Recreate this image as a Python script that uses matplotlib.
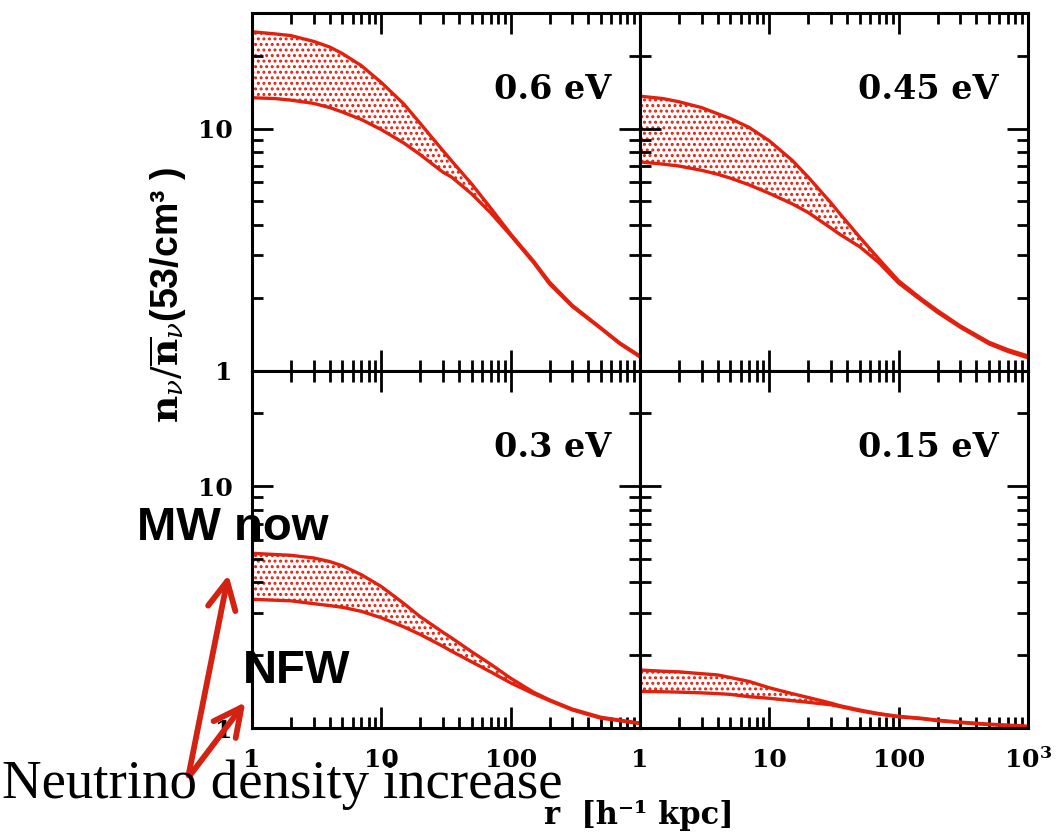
import numpy as np
import matplotlib
matplotlib.use('Agg')
import matplotlib.pyplot as plt
from matplotlib.ticker import FixedLocator, FixedFormatter, LogLocator, NullFormatter
from matplotlib.patches import FancyArrowPatch

plt.rcParams['mathtext.fontset'] = 'dejavuserif'
plt.rcParams['hatch.linewidth'] = 1.4

# radius grid (h^-1 kpc)
r = [1, 1.5, 2, 3, 4, 5, 7, 10, 15, 20, 30, 35, 50, 70, 100, 150, 200, 300, 500, 700, 1000]

# density contrast bands (upper = MW now, lower = NFW)
upper_06 = [25.1, 24.6, 24.2, 22.9, 21.7, 20.4, 18.2, 15.5, 12.6, 10.5, 8.1, 7.35,
            5.9, 4.7, 3.67, 2.84, 2.32, 1.86, 1.50, 1.30, 1.15]
lower_06 = [13.4, 13.3, 13.1, 12.7, 12.2, 11.7, 10.9, 9.9, 8.7, 7.8, 6.6, 6.3,
            5.37, 4.49, 3.62, 2.80, 2.28, 1.84, 1.49, 1.29, 1.14]

upper_045 = [13.6, 13.3, 12.9, 12.2, 11.5, 11.0, 10.1, 8.9, 7.4, 6.3, 4.93, 4.46,
             3.56, 2.90, 2.35, 1.98, 1.77, 1.53, 1.31, 1.22, 1.15]
lower_045 = [7.28, 7.13, 7.0, 6.72, 6.47, 6.24, 5.85, 5.4, 4.89, 4.5, 3.88, 3.66,
             3.25, 2.80, 2.30, 1.95, 1.74, 1.51, 1.29, 1.20, 1.13]

upper_03 = [5.28, 5.22, 5.18, 5.05, 4.88, 4.69, 4.31, 3.85, 3.27, 2.89, 2.49, 2.36,
            2.07, 1.84, 1.61, 1.41, 1.31, 1.20, 1.11, 1.08, 1.05]
lower_03 = [3.41, 3.38, 3.36, 3.27, 3.21, 3.16, 3.04, 2.86, 2.62, 2.44, 2.18, 2.08,
            1.88, 1.71, 1.54, 1.39, 1.30, 1.19, 1.10, 1.075, 1.045]

upper_015 = [1.74, 1.72, 1.71, 1.68, 1.66, 1.62, 1.56, 1.47, 1.39, 1.34, 1.27, 1.24,
             1.19, 1.15, 1.12, 1.10, 1.08, 1.06, 1.04, 1.03, 1.02]
lower_015 = [1.42, 1.415, 1.41, 1.40, 1.39, 1.38, 1.35, 1.33, 1.30, 1.28, 1.25, 1.23,
             1.18, 1.145, 1.115, 1.095, 1.075, 1.055, 1.035, 1.025, 1.015]

labels = ['0.6 eV', '0.45 eV', '0.3 eV', '0.15 eV']
uppers = [upper_06, upper_045, upper_03, upper_015]
lowers = [lower_06, lower_045, lower_03, lower_015]

red = '#e2200e'
arrow_red = '#d42212'

fig, axes = plt.subplots(2, 2, figsize=(10.63, 8.39), dpi=100)
fig.subplots_adjust(left=0.237, right=0.967, top=0.9845, bottom=0.132,
                    wspace=0, hspace=0)

for i, ax in enumerate(axes.flat):
    ax.set_xscale('log')
    ax.set_yscale('log')

    # dotted band between the two profiles
    ax.fill_between(r, lowers[i], uppers[i], facecolor='white', edgecolor=red,
                    hatch='...', linewidth=0, zorder=1)
    ax.plot(r, uppers[i], color=red, lw=2.4, zorder=2)
    ax.plot(r, lowers[i], color=red, lw=2.4, zorder=2)

    ax.set_xlim(1, 1000)
    ax.set_ylim(1, 30)

    ax.xaxis.set_major_locator(FixedLocator([1, 10, 100, 1000]))
    ax.xaxis.set_minor_locator(LogLocator(base=10, subs=np.arange(2, 10)))
    ax.yaxis.set_major_locator(FixedLocator([1, 10]))
    ax.yaxis.set_minor_locator(LogLocator(base=10, subs=np.arange(2, 10)))
    ax.xaxis.set_minor_formatter(NullFormatter())
    ax.yaxis.set_minor_formatter(NullFormatter())

    row, col = divmod(i, 2)
    if row == 1:
        xl = ['1', '10', '100', ''] if col == 0 else ['1', '10', '100', r'$\mathbf{10^3}$']
        ax.xaxis.set_major_formatter(FixedFormatter(xl))
    else:
        ax.xaxis.set_major_formatter(NullFormatter())
    if col == 0:
        ax.yaxis.set_major_formatter(FixedFormatter(['1', '10']))
    else:
        ax.yaxis.set_major_formatter(NullFormatter())

    ax.tick_params(which='both', direction='in', top=True, right=True, width=2,
                   labelsize=18, pad=14)
    ax.tick_params(which='major', length=15)
    ax.tick_params(which='minor', length=8)
    for lab in ax.get_xticklabels() + ax.get_yticklabels():
        lab.set_family('DejaVu Serif')
        lab.set_fontweight('bold')
    for s in ax.spines.values():
        s.set_linewidth(2.2)

    ax.text(0.925, 0.785, labels[i], transform=ax.transAxes, ha='right', va='center',
            fontsize=24, family='DejaVu Serif', fontweight='bold')

# axis titles
fig.text(0.158, 0.648, r'$\mathbf{n}_\nu/\overline{\mathbf{n}}_\nu$(53/cm³ )', rotation=90,
         fontsize=27, fontweight='bold', family='Liberation Sans', ha='center', va='center')
fig.text(0.601, 0.028, 'r  [h⁻¹ kpc]', fontsize=22, fontweight='bold',
         family='DejaVu Serif', ha='center', va='center')

# annotations
fig.text(0.129, 0.3564, 'MW now', fontsize=34, fontweight='bold',
         family='Liberation Sans', va='baseline')
fig.text(0.2286, 0.186, 'NFW', fontsize=34, fontweight='bold',
         family='Liberation Sans', va='baseline')
fig.text(0.002, 0.049, 'Neutrino density increase', fontsize=39.5,
         family='Liberation Serif', va='baseline')

tail = (188 / 1063, 1 - 778 / 839)
for tip in [(229 / 1063, 1 - 572 / 839), (247 / 1063, 1 - 700 / 839)]:
    arr = FancyArrowPatch(tail, tip, transform=fig.transFigure,
                          arrowstyle='->,head_length=20,head_width=10',
                          mutation_scale=1, lw=4.2, color=arrow_red,
                          capstyle='round', joinstyle='round')
    fig.add_artist(arr)

fig.savefig('out.png', dpi=100)
